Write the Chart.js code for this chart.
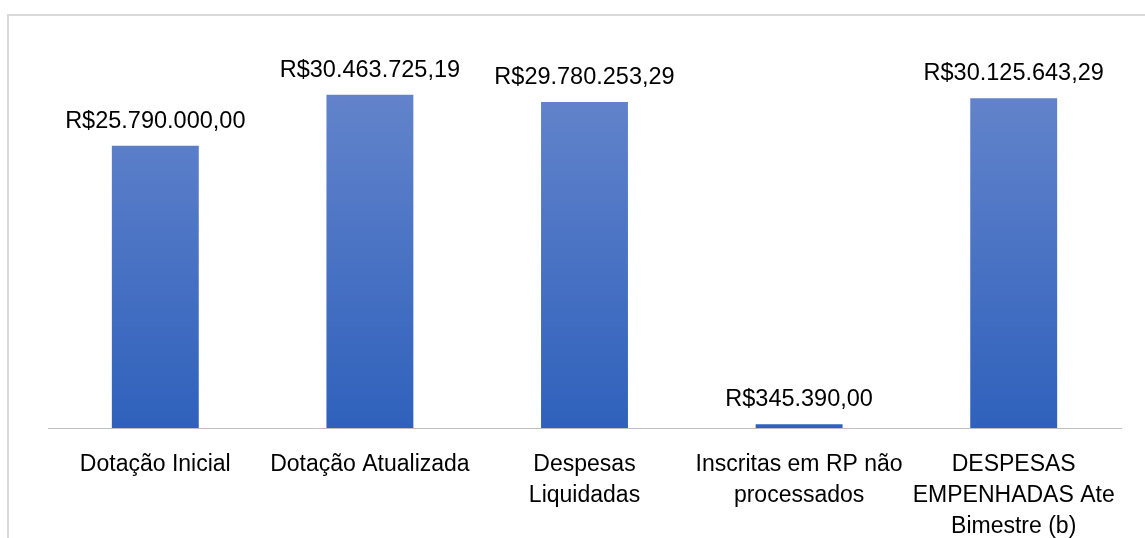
<!DOCTYPE html>
<html>
<head>
<meta charset="utf-8">
<script src="https://cdn.jsdelivr.net/npm/chart.js@4/dist/chart.umd.min.js"></script>
<style>
    body { margin: 0; background: #fff; }
    #wrap { position: relative; width: 1145px; height: 538px; overflow: hidden; }
    #frame {
        position: absolute; left: 7px; top: 14px; width: 1200px; height: 600px;
        border: 2px solid #d9d9d9; box-sizing: border-box; pointer-events: none;
    }
</style>
</head>
<body>
<div id="wrap">
    <canvas id="despesasChart" width="1145" height="538"></canvas>
    <div id="frame"></div>
</div>
<script>
// Categories and values
const categories = [
    'Dotação Inicial',
    'Dotação Atualizada',
    ['Despesas', 'Liquidadas'],
    ['Inscritas em RP não', 'processados'],
    ['DESPESAS', 'EMPENHADAS Ate', 'Bimestre (b)']
];
const valores = [25790000.00, 30463725.19, 29780253.29, 345390.00, 30125643.29];
const yMax = 35000000;

// R$ formatting: 30.463.725,19
function formatReal(v) {
    const parts = v.toFixed(2).split('.');
    const inteiro = parts[0].replace(/\B(?=(\d{3})+(?!\d))/g, '.');
    return 'R$' + inteiro + ',' + parts[1];
}

// Vertical gradient on each bar, built once the bars have their pixel positions
const barGradients = {
    id: 'barGradients',
    beforeDatasetsDraw(chart) {
        const meta = chart.getDatasetMeta(0);
        meta.data.forEach(bar => {
            if (!isFinite(bar.y) || !isFinite(bar.base)) return;
            const g = chart.ctx.createLinearGradient(0, bar.y, 0, bar.base);
            g.addColorStop(0, '#6283cb');
            g.addColorStop(1, '#2f61bc');
            bar.options.backgroundColor = g;
        });
    }
};

// Value labels above bars
const valueLabels = {
    id: 'valueLabels',
    afterDatasetsDraw(chart) {
        const ctx = chart.ctx;
        const meta = chart.getDatasetMeta(0);
        ctx.save();
        ctx.font = '23.5px "Liberation Sans", Arial, sans-serif';
        ctx.fillStyle = '#000';
        ctx.textAlign = 'center';
        ctx.textBaseline = 'alphabetic';
        meta.data.forEach((bar, i) => {
            ctx.fillText(formatReal(valores[i]), bar.x, bar.y - 18);
        });
        ctx.restore();
    }
};

const ctx = document.getElementById('despesasChart').getContext('2d');
new Chart(ctx, {
    type: 'bar',
    data: {
        labels: categories,
        datasets: [{
            data: valores,
            backgroundColor: '#4a73c4',
            borderWidth: 0,
            categoryPercentage: 1,
            barPercentage: 0.405
        }]
    },
    options: {
        responsive: false,
        animation: false,
        layout: {
            padding: { top: 45, left: 48, right: 24, bottom: 0 }
        },
        plugins: {
            legend: { display: false },
            tooltip: { enabled: false }
        },
        scales: {
            x: {
                grid: { display: false, drawTicks: false },
                border: { display: true, color: '#bfbfbf', width: 1 },
                ticks: {
                    color: '#000',
                    padding: 21,
                    maxRotation: 0,
                    autoSkip: false,
                    font: { family: '"Liberation Sans", Arial, sans-serif', size: 23, lineHeight: 1.35 }
                },
                afterFit(scale) { scale.height = 110; }
            },
            y: {
                display: false,
                min: 0,
                max: yMax
            }
        }
    },
    plugins: [barGradients, valueLabels]
});
</script>
</body>
</html>
